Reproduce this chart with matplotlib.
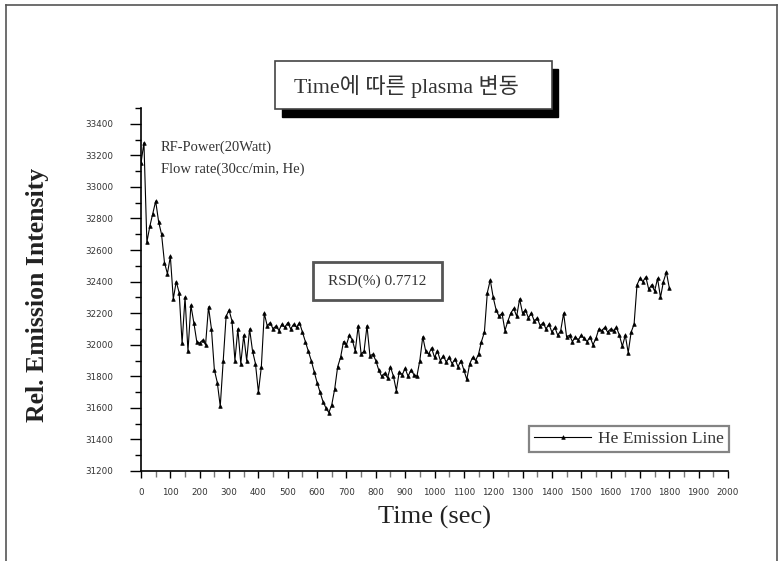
import matplotlib
matplotlib.use("Agg")
import matplotlib.pyplot as plt
from matplotlib.patches import Rectangle
from matplotlib.lines import Line2D
from matplotlib.ticker import MultipleLocator

W, H = 783, 561

# He emission intensity sampled every 10 s
time_sec = list(range(0, 1810, 10))
intensity = [
    33150, 33280, 32650, 32750, 32830, 32910, 32780, 32700, 32520, 32450,
    32560, 32290, 32400, 32330, 32010, 32300, 31960, 32250, 32140, 32020,
    32010, 32030, 32000, 32240, 32100, 31840, 31760, 31610, 31900, 32180,
    32220, 32150, 31900, 32100, 31880, 32060, 31900, 32100, 31960, 31880,
    31700, 31860, 32200, 32120, 32140, 32100, 32120, 32090, 32130, 32110,
    32140, 32100, 32130, 32110, 32140, 32080, 32020, 31960, 31900, 31830,
    31760, 31700, 31640, 31600, 31570, 31620, 31720, 31860, 31920, 32020,
    32000, 32060, 32030, 31960, 32120, 31940, 31960, 32120, 31930, 31940,
    31900, 31840, 31800, 31820, 31790, 31860, 31800, 31710, 31830, 31810,
    31850, 31800, 31840, 31810, 31800, 31900, 32050, 31960, 31940, 31980,
    31920, 31960, 31900, 31930, 31890, 31920, 31880, 31910, 31860, 31900,
    31840, 31780, 31880, 31920, 31900, 31940, 32020, 32080, 32330, 32410,
    32300, 32220, 32180, 32200, 32090, 32150, 32200, 32230, 32180, 32290,
    32200, 32220, 32170, 32200, 32150, 32170, 32120, 32140, 32100, 32130,
    32080, 32110, 32060, 32090, 32200, 32050, 32060, 32020, 32050, 32030,
    32060, 32040, 32020, 32050, 32000, 32040, 32100, 32090, 32110, 32080,
    32100, 32090, 32110, 32060, 31990, 32060, 31950, 32080, 32130, 32380,
    32420, 32400, 32430, 32350, 32380, 32340, 32420, 32300, 32400, 32460,
    32360,
]

title_text = "Time에 따른 plasma 변동"
cond_lines = ["RF-Power(20Watt)", "Flow rate(30cc/min, He)"]
rsd_text = "RSD(%) 0.7712"
series_label = "He Emission Line"

serif = ["Liberation Serif", "DejaVu Serif"]


def fx(px):
    return px / W


def fy(py):
    return 1 - py / H


fig = plt.figure(figsize=(W / 100, H / 100), dpi=100)
fig.patch.set_facecolor("white")

# page frame
for xs, ys in [((6, 777), (5, 5)), ((6, 6), (5, 561)), ((777, 777), (5, 561))]:
    fig.add_artist(Line2D([fx(x) for x in xs], [fy(y) for y in ys],
                          color="#555555", lw=1.2, transform=fig.transFigure))

ax = fig.add_axes([fx(141), fy(471), fx(728) - fx(141), fy(108) - fy(471)])
line, = ax.plot(time_sec, intensity, color="black", lw=0.8, marker="^",
                ms=2.6, mew=0.5, label=series_label)

ax.set_xlim(0, 2000)
ax.set_ylim(31200, 33500)
ax.xaxis.set_major_locator(MultipleLocator(100))
ax.xaxis.set_minor_locator(MultipleLocator(50))
ax.yaxis.set_major_locator(MultipleLocator(200))
ax.yaxis.set_minor_locator(MultipleLocator(100))
ax.set_yticks([v for v in range(31200, 33401, 200)])
for side in ["top", "right"]:
    ax.spines[side].set_visible(False)
for side in ["left", "bottom"]:
    ax.spines[side].set_linewidth(1.2)
ax.tick_params(axis="y", which="major", direction="out", length=8, width=1, pad=12,
               labelsize=6.3, labelcolor="#333333")
ax.tick_params(axis="y", which="minor", direction="out", length=4, width=1)
ax.tick_params(axis="x", which="major", direction="out", length=5, width=1, pad=7,
               labelsize=6.3, labelcolor="#333333")
ax.tick_params(axis="x", which="minor", direction="out", length=4, width=1, color="#777777")

fig.text(fx(38), fy(295), "Rel. Emission Intensity", rotation=90, ha="center", va="center",
         family=serif, fontsize=18.5, fontweight="bold", color="#222222")
fig.text(fx(434), fy(517), "Time (sec)", ha="center", va="center",
         family=serif, fontsize=19, color="#222222")

# title box with shadow
fig.add_artist(Rectangle((fx(282), fy(117)), fx(558) - fx(282), fy(69) - fy(117),
                         transform=fig.transFigure, facecolor="black", edgecolor="black"))
fig.add_artist(Rectangle((fx(275), fy(109)), fx(552) - fx(275), fy(61) - fy(109),
                         transform=fig.transFigure, facecolor="white", edgecolor="#444444",
                         lw=1.2))
fig.text(fx(406), fy(87), title_text, ha="center", va="center",
         family=["Liberation Serif", "Noto Sans CJK KR"], fontsize=15.8, color="#333333")

# run conditions
for i, s in enumerate(cond_lines):
    fig.text(fx(161), fy(147 + 22 * i), s, ha="left", va="center",
             family=serif, fontsize=10.5, color="#333333")

# RSD box
fig.add_artist(Rectangle((fx(313), fy(300)), fx(442) - fx(313), fy(262) - fy(300),
                         transform=fig.transFigure, facecolor="white", edgecolor="#555555",
                         lw=2))
fig.text(fx(377), fy(281), rsd_text, ha="center", va="center",
         family=serif, fontsize=11, color="#333333")

leg = ax.legend(loc="center", bbox_to_anchor=(fx(629), fy(439)), bbox_transform=fig.transFigure,
                prop={"family": serif, "size": 12.5}, frameon=True, fancybox=False,
                handlelength=3.3, handletextpad=0.4, borderpad=0.3, borderaxespad=0)
leg.get_frame().set_edgecolor("#666666")
leg.get_frame().set_linewidth(1.6)
for t in leg.get_texts():
    t.set_color("#333333")

fig.savefig("out.png", dpi=100)
